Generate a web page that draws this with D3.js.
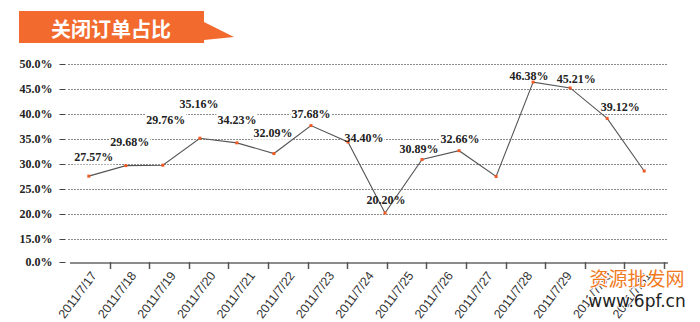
<!DOCTYPE html>
<html><head><meta charset="utf-8">
<script src="https://cdn.jsdelivr.net/npm/d3@7/dist/d3.min.js"></script>
<style>html,body{margin:0;padding:0;background:#fff;}svg{display:block;}</style>
</head><body><svg id="c" width="700" height="322"></svg>
<script>
const chartTitle = "关闭订单占比";
const categories = ["2011/7/17","2011/7/18","2011/7/19","2011/7/20","2011/7/21","2011/7/22","2011/7/23","2011/7/24","2011/7/25","2011/7/26","2011/7/27","2011/7/28","2011/7/29","2011/7/30","2011/7/31"];
const closeRate = [27.57, 29.68, 29.76, 35.16, 34.23, 32.09, 37.68, 34.40, 20.20, 30.89, 32.66, 27.50, 46.38, 45.21, 39.12, 28.60];
const rateLabels = ["27.57%","29.68%","29.76%","35.16%","34.23%","32.09%","37.68%","34.40%","20.20%","30.89%","32.66%",null,"46.38%","45.21%","39.12%",null];
const yTicks = [0, 15, 20, 25, 30, 35, 40, 45, 50];
const watermark = ["资源批发网", "www.6pf.cn"];

// layout-only nudges for the data labels (dx, dy from the point)
const labelNudge = [[5,-19],[4,-24],[3,-45],[-1,-34],[0,-23],[-1,-21],[0,-12],[16,-4],[1,-13],[-3,-11],[1,-12],[0,0],[-4,-6],[6,-9],[13,-12],[0,0]];

const svg = d3.select("#c");
svg.append("rect").attr("width",700).attr("height",322).attr("fill","#fff");

const orange = "#F26A2E";
// title banner
svg.append("polygon")
  .attr("points","19,11 204,11 204,22 234,37 204,40 204,43 19,43")
  .attr("fill", orange);
svg.append("text").attr("x",111).attr("y",28).attr("text-anchor","middle")
  .attr("dominant-baseline","central")
  .attr("font-family","'Noto Sans CJK SC', sans-serif").attr("font-weight","bold")
  .attr("font-size",20).attr("fill","#fff").text(chartTitle);

const y = d3.scaleLinear().domain([0,15,50]).range([262,239,64]);
const x = d3.scaleBand().domain(categories).range([70,664]);
const lineX = d3.scalePoint().domain(d3.range(closeRate.length))
  .range([x(categories[0]) + x.bandwidth()/2 - 1, x(categories[categories.length-1]) + x.bandwidth()/2]);

// grid
svg.append("g").selectAll("line").data(yTicks.filter(d=>d>0)).join("line")
  .attr("x1",68).attr("x2",668).attr("y1",d=>Math.round(y(d))+0.5).attr("y2",d=>Math.round(y(d))+0.5)
  .attr("stroke","#8a8a8a").attr("stroke-width",1).attr("stroke-dasharray","2,1");

// y axis
const yAxis = d3.axisLeft(y).tickValues(yTicks).tickFormat(d=>d.toFixed(1)+"%").tickSize(6).tickPadding(7);
const gy = svg.append("g").attr("transform","translate(65.5,0)").call(yAxis);
gy.select(".domain").remove();
gy.selectAll(".tick line").attr("stroke","#444");
gy.selectAll(".tick text").attr("font-family","'Liberation Serif', 'Times New Roman', serif")
  .attr("font-weight","bold").attr("font-size",12).attr("fill","#222");

// x axis
svg.append("line").attr("x1",70).attr("x2",668).attr("y1",263).attr("y2",263)
  .attr("stroke","#8c8c8c").attr("stroke-width",2);
svg.append("g").selectAll("line").data(categories).join("line")
  .attr("x1",d=>Math.round(x(d)+x.step())+0.5).attr("x2",d=>Math.round(x(d)+x.step())+0.5)
  .attr("y1",262).attr("y2",269).attr("stroke","#555").attr("stroke-width",1.5);
svg.append("g").selectAll("text").data(categories).join("text")
  .attr("transform",d=>`translate(${x(d)+x.bandwidth()/2+4},273) rotate(-53)`)
  .attr("text-anchor","end").attr("dy","0.35em")
  .attr("font-family","'Liberation Sans', Arial, sans-serif").attr("font-size",12.5).attr("fill","#333")
  .text(d=>d);

// label backgrounds
const lblData = closeRate.map((v,i)=>({v,i,t:rateLabels[i]})).filter(d=>d.t);
const lblG = svg.append("g");
const bgG = lblG.append("g");

// line
svg.append("path").datum(closeRate)
  .attr("d", d3.line().x((d,i)=>lineX(i)).y(d=>y(d)))
  .attr("fill","none").attr("stroke","#555").attr("stroke-width",1.1);
svg.append("g").selectAll("rect").data(closeRate).join("rect")
  .attr("x",(d,i)=>lineX(i)-1.5).attr("y",d=>y(d)-1.5).attr("width",3).attr("height",3)
  .attr("fill","#F05A24");

const txt = svg.append("g").selectAll("text").data(lblData).join("text")
  .attr("x",d=>lineX(d.i)+labelNudge[d.i][0]).attr("y",d=>y(d.v)+labelNudge[d.i][1])
  .attr("dy","0.35em").attr("text-anchor","middle")
  .attr("font-family","'Liberation Serif', 'Times New Roman', serif")
  .attr("font-weight","bold").attr("font-size",12).attr("fill","#222")
  .text(d=>d.t);
txt.each(function(){
  const b=this.getBBox();
  bgG.append("rect").attr("x",b.x-1).attr("y",b.y).attr("width",b.width+2).attr("height",b.height).attr("fill","#fff");
});

// watermark
svg.append("text").attr("x",637).attr("y",286).attr("text-anchor","middle")
  .attr("font-family","'Noto Sans CJK SC', sans-serif").attr("font-size",19)
  .attr("fill","#F27A1E").attr("stroke","#fff").attr("stroke-width",2).attr("paint-order","stroke")
  .text(watermark[0]);
svg.append("text").attr("x",637).attr("y",307).attr("text-anchor","middle")
  .attr("font-family","'DejaVu Sans', sans-serif").attr("font-size",17)
  .attr("fill","#222").attr("stroke","#fff").attr("stroke-width",2).attr("paint-order","stroke")
  .text(watermark[1]);
</script></body></html>
